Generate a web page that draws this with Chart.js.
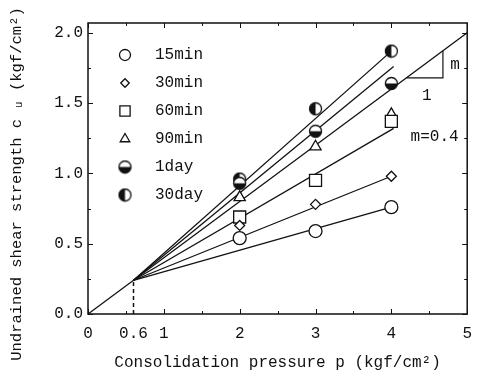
<!DOCTYPE html>
<html>
<head>
<meta charset="utf-8">
<script src="https://cdn.jsdelivr.net/npm/chart.js@4.4.0/dist/chart.umd.min.js"></script>
<style>
  html, body { margin: 0; padding: 0; background: #fff; }
  #wrap { width: 477px; height: 377px; }
</style>
</head>
<body>
<div id="wrap"><canvas id="chart" width="477" height="377"></canvas></div>
<script>
// measured points (kgf/cm2)
const pressures = [2, 3, 4];
const seriesNames = ["15min", "30min", "60min", "90min", "1day", "30day"];
const cu15min = [0.54, 0.59, 0.76];
const cu30min = [0.63, 0.78, 0.98];
const cu60min = [0.69, 0.95, 1.37];
const cu90min = [0.83, 1.19, 1.42];
const cu1day = [0.93, 1.30, 1.64];
const cu30day = [0.96, 1.46, 1.87];

// fitted lines, all start at the yield point
const yieldPoint = [0.6, 0.24];
const fitEndX = [4.0, 4.0, 4.03, 4.03, 4.0];
const fitEndY = [0.76, 0.98, 1.32, 1.76, 1.87];
// m = 0.4 line through origin
const mLineX = [0, 5];
const mLineY = [0, 2.0];
const slopeTriX = [4.2, 4.68];

const xTicks = [0, 0.6, 1, 2, 3, 4, 5];
const yTicks = [0, 0.5, 1.0, 1.5, 2.0];
const yTitle = "Undrained shear strength c ᵤ (kgf/cm²)";

const INK = "#111";
const FAMILY = "'Liberation Mono', 'DejaVu Sans Mono', monospace";
const FONT = { family: FAMILY, size: 16 };

function halfCircle(kind) {
  const c = document.createElement("canvas");
  c.width = 15; c.height = 15;
  const g = c.getContext("2d");
  g.fillStyle = "#fff";
  g.beginPath(); g.arc(7.5, 7.5, 6, 0, 2 * Math.PI); g.fill();
  g.fillStyle = INK;
  g.beginPath();
  if (kind === "bottom") g.arc(7.5, 7.5, 6, 0, Math.PI);
  else g.arc(7.5, 7.5, 6, Math.PI / 2, 3 * Math.PI / 2);
  g.closePath(); g.fill();
  g.strokeStyle = INK; g.lineWidth = 1.3;
  g.beginPath(); g.arc(7.5, 7.5, 6, 0, 2 * Math.PI); g.stroke();
  return c;
}

const markers = [
  { style: "circle", r: 6.5 },
  { style: "rectRot", r: 5 },
  { style: "rect", r: 8.5 },
  { style: "triangle", r: 6.5 },
  { style: halfCircle("bottom"), r: 7 },
  { style: halfCircle("left"), r: 7 },
];
const values = [cu15min, cu30min, cu60min, cu90min, cu1day, cu30day];

const datasets = [];
// fitted lines
fitEndX.forEach((ex, i) => {
  datasets.push({
    data: [{ x: yieldPoint[0], y: yieldPoint[1] }, { x: ex, y: fitEndY[i] }],
    showLine: true, borderColor: INK, borderWidth: 1.3, pointRadius: 0, order: 3,
  });
});
datasets.push({
  data: mLineX.map((x, i) => ({ x, y: mLineY[i] })),
  showLine: true, borderColor: INK, borderWidth: 1.3, pointRadius: 0, order: 3,
});
// dashed drop line
datasets.push({
  data: [{ x: yieldPoint[0], y: 0 }, { x: yieldPoint[0], y: yieldPoint[1] }],
  showLine: true, borderColor: INK, borderWidth: 1.5, borderDash: [4, 3], pointRadius: 0, order: 3,
});
// measured points
values.forEach((vals, i) => {
  datasets.push({
    label: seriesNames[i],
    data: pressures.map((p, j) => ({ x: p, y: vals[j] })),
    showLine: false,
    pointStyle: markers[i].style,
    pointRadius: markers[i].r,
    pointBackgroundColor: "#fff",
    pointBorderColor: INK,
    pointBorderWidth: 1.3,
    order: 1,
  });
});

const frame = {
  id: "frame",
  beforeDatasetsDraw(chart) {
    const { ctx, chartArea: a, scales: { x, y } } = chart;
    ctx.save();
    ctx.strokeStyle = INK;
    ctx.lineWidth = 1.5;
    ctx.strokeRect(a.left, a.top, a.right - a.left, a.bottom - a.top);
    ctx.lineWidth = 1;
    ctx.beginPath();
    for (let v = 0; v <= 5.001; v += 0.5) {
      const len = Math.abs(v - Math.round(v)) < 1e-6 ? 5 : 3;
      const px = Math.round(x.getPixelForValue(v)) + 0.5;
      ctx.moveTo(px, a.bottom); ctx.lineTo(px, a.bottom - len);
      ctx.moveTo(px, a.top); ctx.lineTo(px, a.top + len);
    }
    for (let v = 0; v <= 2.001; v += 0.25) {
      const len = Math.abs(v * 2 - Math.round(v * 2)) < 1e-6 ? 5 : 3;
      const py = Math.round(y.getPixelForValue(v)) + 0.5;
      ctx.moveTo(a.left, py); ctx.lineTo(a.left + len, py);
      ctx.moveTo(a.right, py); ctx.lineTo(a.right - len, py);
    }
    ctx.stroke();

    // y axis title, drawn by hand so it can sit a bit lower than centre
    ctx.save();
    ctx.translate(17, 184);
    ctx.rotate(-Math.PI / 2);
    ctx.font = "15.5px " + FAMILY;
    ctx.fillStyle = INK;
    ctx.textAlign = "center";
    ctx.textBaseline = "middle";
    ctx.fillText(yTitle, 0, 0);
    ctx.restore();
    ctx.restore();
  },
  afterDatasetsDraw(chart) {
    const { ctx, chartArea: a, scales: { x, y } } = chart;
    ctx.save();
    ctx.font = "16px " + FAMILY;
    ctx.textBaseline = "middle";
    // legend
    seriesNames.forEach((name, i) => {
      const ly = a.top + 32 + i * 28;
      ctx.fillStyle = "#fff";
      ctx.strokeStyle = INK;
      ctx.lineWidth = 1.3;
      Chart.helpers.drawPoint(ctx, {
        pointStyle: markers[i].style, radius: markers[i].r * 0.85, rotation: 0, borderWidth: 1.3,
      }, a.left + 37, ly);
      ctx.fillStyle = INK;
      ctx.textAlign = "left";
      ctx.fillText(name, a.left + 67, ly);
    });
    // slope triangle
    const x1 = x.getPixelForValue(slopeTriX[0]);
    const x2 = x.getPixelForValue(slopeTriX[1]);
    const y1 = y.getPixelForValue(0.4 * slopeTriX[0]);
    const y2 = y.getPixelForValue(0.4 * slopeTriX[1]);
    ctx.strokeStyle = INK;
    ctx.lineWidth = 1.2;
    ctx.beginPath();
    ctx.moveTo(x1, y1); ctx.lineTo(x2, y1); ctx.lineTo(x2, y2);
    ctx.stroke();
    ctx.textAlign = "center";
    ctx.fillText("m", x2 + 12, (y1 + y2) / 2);
    ctx.fillText("1", (x1 + x2) / 2 + 2, y1 + 18);
    ctx.fillText("m=0.4", x.getPixelForValue(4.57), y.getPixelForValue(1.26));
    ctx.restore();
  },
};

new Chart(document.getElementById("chart"), {
  type: "scatter",
  data: { datasets },
  options: {
    responsive: false,
    animation: false,
    layout: { padding: { top: 23, right: 9, left: 0, bottom: 0 } },
    plugins: { legend: { display: false }, tooltip: { enabled: false } },
    scales: {
      x: {
        type: "linear", min: 0, max: 5,
        afterBuildTicks: (s) => { s.ticks = xTicks.map((v) => ({ value: v })); },
        afterFit: (s) => { s.height = 63; s.paddingLeft = 0; s.paddingRight = 0; },
        grid: { display: false, drawTicks: false },
        border: { display: false },
        ticks: { color: INK, font: FONT, padding: 10, maxRotation: 0, autoSkip: false,
                 callback: (v) => String(v) },
        title: { display: true, text: "Consolidation pressure p (kgf/cm²)", color: INK, font: FONT,
                 padding: { top: 0, bottom: 5 } },
      },
      y: {
        type: "linear", min: 0, max: 2.07,
        afterBuildTicks: (s) => { s.ticks = yTicks.map((v) => ({ value: v })); },
        afterFit: (s) => { s.width = 88; s.paddingTop = 0; s.paddingBottom = 0; },
        grid: { display: false, drawTicks: false },
        border: { display: false },
        ticks: { color: INK, font: FONT, padding: 5, callback: (v) => v.toFixed(1) },
        title: { display: false },
      },
    },
  },
  plugins: [frame],
});
</script>
</body>
</html>
